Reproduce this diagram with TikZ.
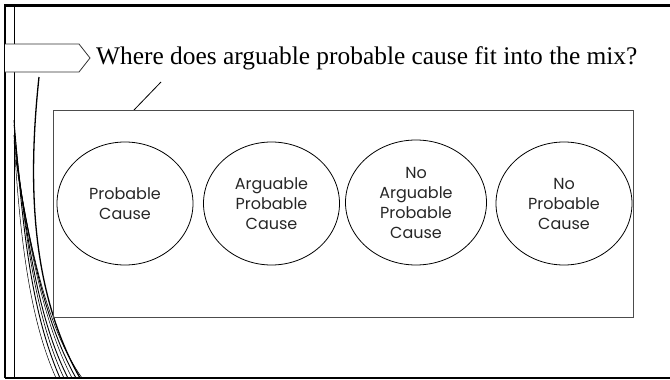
\documentclass[tikz,border=0pt]{standalone}
\usepackage{fontspec}
\setmainfont{Liberation Serif}
\newfontfamily\gothic{Poppins}
\usetikzlibrary{shapes.geometric}
\begin{document}
\begin{tikzpicture}[x=1pt,y=-1pt,
  oval/.style={draw=black, line width=0.8pt, ellipse, minimum width=136pt, minimum height=123pt, inner sep=0pt, align=center, font=\gothic\fontsize{16}{20}\selectfont, text=black!85},
  deco/.style={line width=0.6pt}]
\useasboundingbox (0,0) rectangle (670,380);
% frame
\draw[line width=2.5pt] (5,378) -- (5,5.5) -- (670,5.5);
\draw[line width=1.2pt] (5,378) -- (670,378);
\draw[line width=0.8pt] (14,6) -- (14,378);
% decorative curves
\draw[line width=1.3pt] (39,77) .. controls (28,180) and (30,290) .. (80,378);
\draw[line width=0.9pt] (14,120) .. controls (22,220) and (30,310) .. (60,378);
\draw[line width=0.6pt] (14,125) .. controls (24,225) and (34,315) .. (64,378);
\draw[line width=0.9pt] (14,135) .. controls (26,235) and (38,320) .. (68,378);
\draw[line width=0.5pt] (15,150) .. controls (28,240) and (42,320) .. (72,378);
\draw[line width=0.9pt] (16,160) .. controls (30,250) and (46,325) .. (76,378);
\draw[line width=0.6pt] (18,175) .. controls (32,255) and (48,330) .. (82,378);
\draw[line width=0.5pt] (14,140) .. controls (20,240) and (30,320) .. (56,378);
% arrow pentagon
\draw[draw=black!80, line width=0.8pt, fill=white] (5,44) -- (79,44) -- (90,58) -- (79,72) -- (5,72);
\node[anchor=base west, inner sep=0pt, font=\fontsize{25.4}{30}\selectfont] (title) at (96,64) {Where does arguable probable cause fit into the mix?};
% short diagonal
\coordinate (d1) at (161,82);
\coordinate (d2) at (134,110);
\draw[line width=0.8pt] (d1) -- (d2);
% big rectangle
\node[draw=black!70, line width=0.9pt, minimum width=580pt, minimum height=207pt, inner sep=0pt] (box) at (343,213.5) {};
% ovals
\node[oval] (c1) at (125,203.5) {Probable\\Cause};
\node[oval] (c2) at (271.5,203.5) {Arguable\\Probable\\Cause};
\node[oval, minimum width=141pt, minimum height=125pt] (c3) at (416,202.5) {No\\Arguable\\Probable\\Cause};
\node[oval] (c4) at (564,203.5) {No\\Probable\\Cause};
\end{tikzpicture}
\end{document}
